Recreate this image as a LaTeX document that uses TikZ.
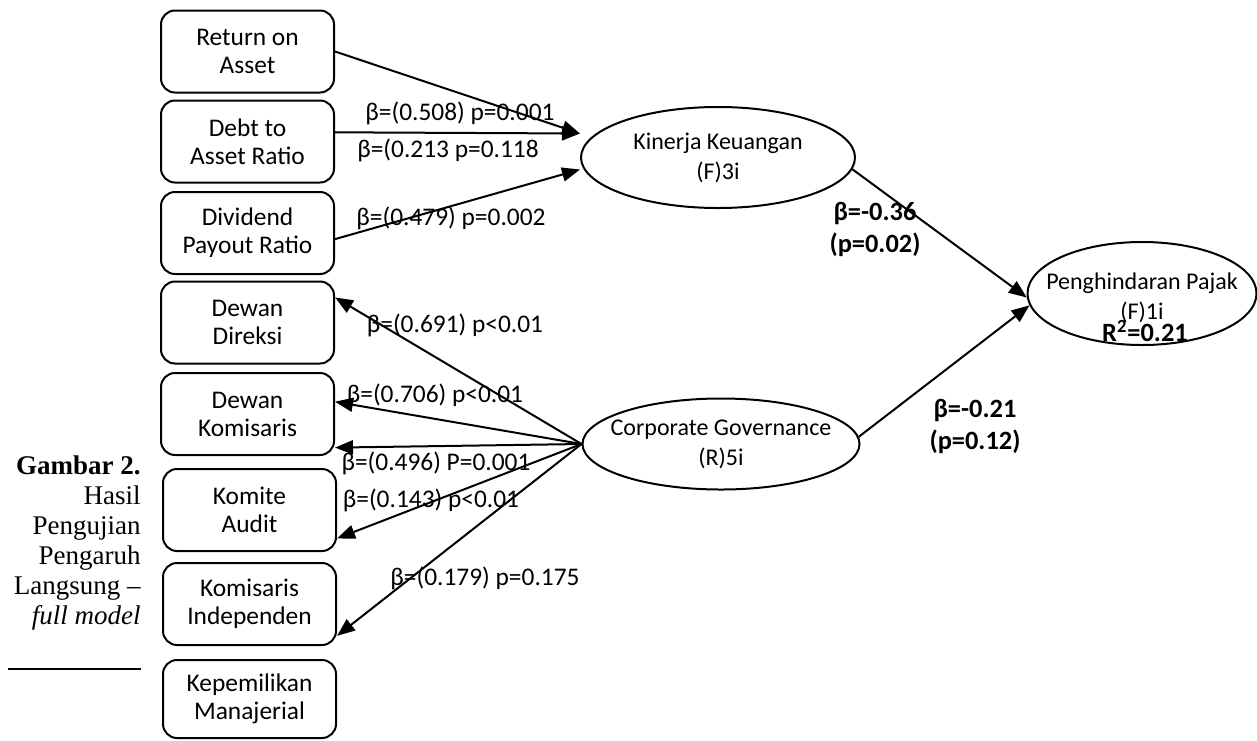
\documentclass[tikz,border=0pt]{standalone}
\usepackage{fontspec}
\setmainfont{Carlito}
\newfontfamily\captionserif{Liberation Serif}
\usetikzlibrary{shapes.geometric,arrows.meta}

\begin{document}
\begin{tikzpicture}[x=0.5pt,y=-0.5pt,>={Triangle[length=9pt,width=7pt]},
	indicator/.style={draw,line width=1pt,rounded corners=7pt,minimum width=86.5pt,minimum height=41pt,inner sep=1pt,align=center,font=\fontsize{12.7}{14}\selectfont},
	construct/.style={draw,ellipse,line width=1pt,inner sep=0pt},
	constructtext/.style={align=center,font=\fontsize{12}{15}\selectfont},
	coef/.style={inner sep=0pt,font=\fontsize{12.7}{15}\selectfont},
	boldcoef/.style={inner sep=0pt,align=center,font=\bfseries\fontsize{13.2}{16}\selectfont},
	link/.style={->,line width=1pt}]
	
	\useasboundingbox (0,0) rectangle (1257,740);
	
	% Draw the indicator boxes
	\node[indicator] (roa) at (247.5,51.5) {Return on\\Asset};
	\node[indicator] (dar) at (247.5,141.5) {Debt to\\Asset Ratio};
	\node[indicator] (dpr) at (247.5,233) {Dividend\\Payout Ratio};
	\node[indicator] (ddir) at (247.5,322.5) {Dewan\\Direksi};
	\node[indicator] (dkom) at (247.5,414) {Dewan\\Komisaris};
	\node[indicator] (kaud) at (249.5,510) {Komite\\Audit};
	\node[indicator] (kind) at (249.5,604) {Komisaris\\Independen};
	\node[indicator,minimum height=39pt] (kman) at (249.5,699) {Kepemilikan\\Manajerial};
	
	% Draw the constructs
	\node[construct,minimum width=137pt,minimum height=50.5pt,
		label={[constructtext]center:{Kinerja Keuangan\\(F)3i}}] (kin) at (718,157.5) {};
	\node[construct,minimum width=138.5pt,minimum height=45.5pt,
		label={[constructtext]center:{Corporate Governance\\(R)5i}}] (cg) at (721,444) {};
	\node[construct,minimum width=114.5pt,minimum height=51.5pt,
		label={[constructtext,yshift=-2pt]center:{Penghindaran Pajak\\(F)1i}}] (pen) at (1142,293.5) {};
	\node[boldcoef] (rsq) at (1145,331) {R\textsuperscript{2}=0.21};
	
	% Draw the paths into Kinerja Keuangan
	\draw[link] (roa.east) -- ([yshift=12pt]kin.west);
	\draw[link] (dar.6) -- ([yshift=12pt]kin.west);
	\draw[link] (dpr.-4) -- ([yshift=-6pt]kin.west);
	\node[coef] (c1) at (460,113) {β=(0.508) p=0.001};
	\node[coef] (c2) at (448,150) {β=(0.213 p=0.118};
	\node[coef] (c3) at (451,218) {β=(0.479) p=0.002};
	
	% Draw the paths out of Corporate Governance
	\draw[link] (cg.west) -- (ddir.16);
	\draw[link] (cg.west) -- (dkom.8);
	\draw[link] (cg.west) -- (dkom.-21);
	\draw[link] (cg.west) -- (kaud.-18);
	\draw[link] (cg.west) -- (kind.-20);
	\node[coef] (c4) at (455,325) {β=(0.691) p<0.01};
	\node[coef] (c5) at (435,395) {β=(0.706) p<0.01};
	\node[coef] (c6) at (436,463) {β=(0.496) P=0.001};
	\node[coef] (c7) at (431,500) {β=(0.143) p<0.01};
	\node[coef] (c8) at (485,578) {β=(0.179) p=0.175};
	
	% Draw the paths into Penghindaran Pajak
	\draw[link] (kin.-5) -- (pen.182);
	\draw[link] (cg.3) -- (pen.186);
	\node[boldcoef] (b1) at (875,229) {β=-0.36\\(p=0.02)};
	\node[boldcoef] (b2) at (975,426) {β=-0.21\\(p=0.12)};
	
	% Caption at the left
	\node[anchor=east,align=right,inner sep=0pt,font=\captionserif\fontsize{13.5}{15}\selectfont] (caption) at (141,543)
		{\textbf{Gambar 2.}\\Hasil\\Pengujian\\Pengaruh\\Langsung –\\\textit{full model}};
	\draw[line width=1.2pt] (8,669) -- (141,669);
	
\end{tikzpicture}
\end{document}
